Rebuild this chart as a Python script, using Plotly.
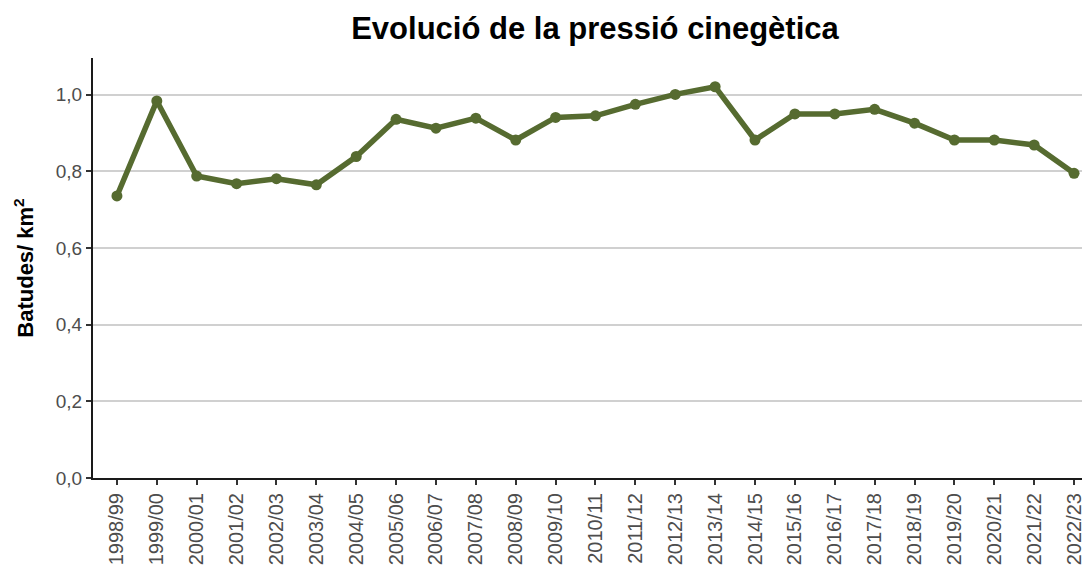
import plotly.graph_objects as go

seasons = ["1998/99", "1999/00", "2000/01", "2001/02", "2002/03", "2003/04", "2004/05",
           "2005/06", "2006/07", "2007/08", "2008/09", "2009/10", "2010/11", "2011/12",
           "2012/13", "2013/14", "2014/15", "2015/16", "2016/17", "2017/18", "2018/19",
           "2019/20", "2020/21", "2021/22", "2022/23"]
batudes = [0.736, 0.984, 0.788, 0.768, 0.781, 0.765, 0.839,
           0.936, 0.913, 0.939, 0.882, 0.941, 0.945, 0.975,
           1.001, 1.021, 0.882, 0.950, 0.950, 0.962, 0.926,
           0.882, 0.882, 0.869, 0.795]
y_ticks = [0.0, 0.2, 0.4, 0.6, 0.8, 1.0]

color = "#566b30"
FONT = "Liberation Sans, Arial, Helvetica, sans-serif"

fig = go.Figure()
fig.add_trace(go.Scatter(
    x=list(range(len(seasons))), y=batudes, mode="lines+markers",
    line=dict(color=color, width=5.5), marker=dict(color=color, size=11),
    hoverinfo="skip", showlegend=False, cliponaxis=False))

# page body has an 8px default margin; figure sized to fill the rest
fig.update_layout(
    width=1082, height=557,
    margin=dict(l=85, r=0, t=50, b=87, autoexpand=False),
    paper_bgcolor="white", plot_bgcolor="white",
    separators=",.",
    font=dict(family=FONT, color="#4d4d4d"),
    title=dict(text="<b>Evolució de la pressió cinegètica</b>", x=0.5425, xanchor="center",
               y=0.963, yanchor="middle",
               font=dict(size=31, color="black", family=FONT)),
)
fig.update_xaxes(
    tickmode="array", tickvals=list(range(len(seasons))), ticktext=seasons,
    range=[-0.6, 24.4], tickangle=-90, showgrid=False, automargin=False,
    showline=True, linecolor="#1a1a1a", linewidth=2,
    ticks="outside", ticklen=5, tickwidth=2, tickcolor="#333333",
    tickfont=dict(size=20, color="#4d4d4d"), zeroline=False)
fig.update_yaxes(
    range=[0, 1.096], tickmode="array", tickvals=y_ticks, tickformat=".1f",
    showgrid=True, gridcolor="#d0d0d0", gridwidth=1.5, automargin=False,
    showline=True, linecolor="#1a1a1a", linewidth=2,
    ticks="outside", ticklen=5, tickwidth=2, tickcolor="#333333",
    tickfont=dict(size=19, color="#4d4d4d"), zeroline=False,
    title=dict(text="<b>Batudes/ km<sup>2</sup></b>", standoff=16,
               font=dict(size=22, color="black")))

fig.write_html("out.html")
